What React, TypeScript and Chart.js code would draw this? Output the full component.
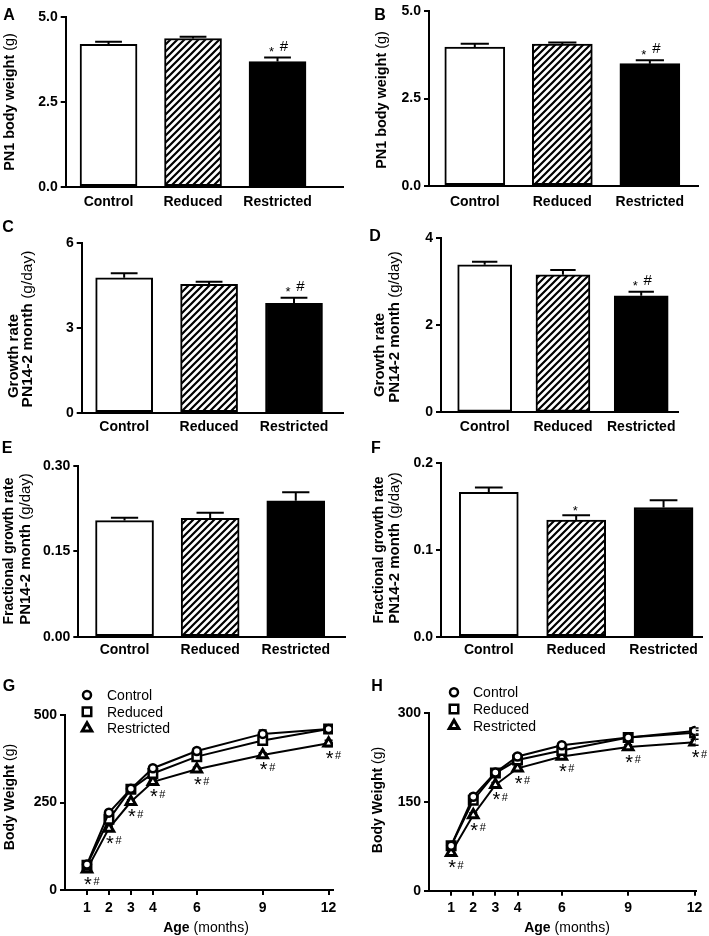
import React, { useEffect, useRef } from 'react';
import { Chart, registerables } from 'chart.js';

Chart.register(...registerables);

const FONT = "'Liberation Sans', Arial, Helvetica, sans-serif";

// ---------- data ----------
const groups = ['Control', 'Reduced', 'Restricted'];

// A: PN1 body weight (g)
const aValues = [4.19, 4.36, 3.68];
const aErrors = [0.07, 0.05, 0.12];
const aTicks = [0, 2.5, 5.0];
const aSig = ['', '', '*#'];

// B: PN1 body weight (g)
const bValues = [3.98, 4.06, 3.5];
const bErrors = [0.09, 0.05, 0.1];
const bTicks = [0, 2.5, 5.0];
const bSig = ['', '', '*#'];

// C: growth rate PN14-2 month (g/day)
const cValues = [4.76, 4.53, 3.86];
const cErrors = [0.16, 0.09, 0.2];
const cTicks = [0, 3, 6];
const cSig = ['', '', '*#'];

// D
const dValues = [3.39, 3.16, 2.68];
const dErrors = [0.07, 0.11, 0.09];
const dTicks = [0, 2, 4];
const dSig = ['', '', '*#'];

// E: fractional growth rate
const eValues = [0.204, 0.208, 0.239];
const eErrors = [0.005, 0.01, 0.015];
const eTicks = [0, 0.15, 0.3];
const eSig = ['', '', ''];

// F
const fValues = [0.1666, 0.1346, 0.149];
const fErrors = [0.0055, 0.0055, 0.0085];
const fTicks = [0, 0.1, 0.2];
const fSig = ['', '*', ''];

// G / H: body weight over age
const months = [1, 2, 3, 4, 6, 9, 12];
const gControl = [73, 221, 289, 348, 397, 446, 460];
const gReduced = [71, 202, 288, 333, 381, 427, 460];
const gRestricted = [59, 176, 252, 309, 345, 386, 419];
const gControlErr = [6, 7, 6, 7, 7, 11, 7];
const gReducedErr = [6, 8, 6, 7, 8, 11, 7];
const gRestrictedErr = [4, 6, 6, 6, 6, 6, 9];
const gTicks = [0, 250, 500];
const gSig = ['*#', '*#', '*#', '*#', '*#', '*#', '*#'];

const hControl = [76, 159, 200, 227, 246, 259, 270];
const hReduced = [76, 153, 199, 221, 237, 259, 267];
const hRestricted = [64, 128, 179, 207, 227, 243, 251];
const hControlErr = [3, 4, 4, 4, 4, 4, 5];
const hReducedErr = [3, 4, 4, 4, 4, 4, 4];
const hRestrictedErr = [3, 4, 4, 4, 4, 4, 5];
const hTicks = [0, 150, 300];
const hSig = ['*#', '*#', '*#', '*#', '*#', '*#', '*#'];

// ---------- helpers ----------
type Box = { l: number; t: number; w: number; h: number };
type Area = { l: number; t: number; r: number; b: number };

function frame(box: Box, area: Area) {
  return {
    yWidth: area.l - box.l,
    xHeight: box.t + box.h - area.b,
    padTop: area.t - box.t,
    padRight: box.l + box.w - area.r,
  };
}

function makeHatch(): any {
  const s = 7;
  const c = document.createElement('canvas');
  c.width = s;
  c.height = s;
  const x = c.getContext('2d')!;
  x.fillStyle = '#fff';
  x.fillRect(0, 0, s, s);
  x.strokeStyle = '#000';
  x.lineWidth = 2.2;
  x.beginPath();
  x.moveTo(-1, s + 1);
  x.lineTo(s + 1, -1);
  x.moveTo(-2, 2);
  x.lineTo(2, -2);
  x.moveTo(s - 2, s + 2);
  x.lineTo(s + 2, s - 2);
  x.stroke();
  return x.createPattern(c, 'repeat');
}

function drawMarker(ctx: CanvasRenderingContext2D, style: string, x: number, y: number, r: number) {
  ctx.beginPath();
  if (style === 'circle') {
    ctx.arc(x, y, r, 0, Math.PI * 2);
  } else if (style === 'rect') {
    const s = r * Math.SQRT1_2;
    ctx.rect(x - s, y - s, 2 * s, 2 * s);
  } else {
    const c = Math.cos(Math.PI / 6) * r;
    ctx.moveTo(x, y - r);
    ctx.lineTo(x + c, y + r / 2);
    ctx.lineTo(x - c, y + r / 2);
    ctx.closePath();
  }
  ctx.fill();
  ctx.stroke();
}

function barExtras(errors: number[], sig: string[], barW: number) {
  return {
    id: 'barExtras',
    afterDatasetsDraw(chart: any) {
      const { ctx } = chart;
      const x = chart.scales.x;
      const y = chart.scales.y;
      const pts = chart.data.datasets[0].data;
      ctx.save();
      ctx.strokeStyle = '#000';
      ctx.lineWidth = 2;
      ctx.fillStyle = '#000';
      pts.forEach((pt: any, i: number) => {
        const cx = x.getPixelForValue(pt.x);
        const yv = y.getPixelForValue(pt.y);
        const ye = y.getPixelForValue(pt.y + errors[i]);
        const half = barW * 0.235;
        ctx.beginPath();
        ctx.moveTo(cx, yv);
        ctx.lineTo(cx, ye);
        ctx.moveTo(cx - half, ye);
        ctx.lineTo(cx + half, ye);
        ctx.stroke();
        const s = sig[i];
        if (s) {
          ctx.textAlign = 'center';
          ctx.textBaseline = 'middle';
          if (s.includes('#')) {
            ctx.font = `13px ${FONT}`;
            ctx.fillText('*', cx - 6, ye - 5);
            ctx.font = `15px ${FONT}`;
            ctx.fillText('#', cx + 6.5, ye - 11);
          } else {
            ctx.font = `13px ${FONT}`;
            ctx.fillText('*', cx - 1, ye - 4);
          }
        }
      });
      ctx.restore();
    },
  };
}

type LegendPos = { mx: number; my: number[]; tx: number };

function lineExtras(errors: number[][], sig: string[], legend: LegendPos) {
  return {
    id: 'lineExtras',
    beforeDatasetsDraw(chart: any) {
      const { ctx } = chart;
      const x = chart.scales.x;
      const y = chart.scales.y;
      ctx.save();
      ctx.strokeStyle = '#000';
      ctx.lineWidth = 1.5;
      chart.data.datasets.forEach((ds: any, d: number) => {
        ds.data.forEach((pt: any, i: number) => {
          const e = errors[d][i];
          const cx = x.getPixelForValue(pt.x);
          const y1 = y.getPixelForValue(pt.y - e);
          const y2 = y.getPixelForValue(pt.y + e);
          ctx.beginPath();
          ctx.moveTo(cx, y1);
          ctx.lineTo(cx, y2);
          ctx.moveTo(cx - 4, y1);
          ctx.lineTo(cx + 4, y1);
          ctx.moveTo(cx - 4, y2);
          ctx.lineTo(cx + 4, y2);
          ctx.stroke();
        });
      });
      ctx.restore();
    },
    afterDatasetsDraw(chart: any) {
      const { ctx } = chart;
      const x = chart.scales.x;
      const y = chart.scales.y;
      const restricted = chart.data.datasets[2].data;
      ctx.save();
      ctx.fillStyle = '#000';
      ctx.textAlign = 'center';
      ctx.textBaseline = 'middle';
      restricted.forEach((pt: any, i: number) => {
        if (!sig[i]) return;
        const cx = x.getPixelForValue(pt.x);
        const cy = y.getPixelForValue(pt.y) + 12;
        ctx.font = `20px ${FONT}`;
        ctx.fillText('*', cx + 1, cy + 4);
        ctx.font = `11px ${FONT}`;
        ctx.fillText('#', cx + 9.5, cy + 1);
      });
      // legend
      chart.data.datasets.forEach((ds: any, d: number) => {
        ctx.fillStyle = '#fff';
        ctx.strokeStyle = '#000';
        ctx.lineWidth = ds.pointBorderWidth;
        drawMarker(ctx, ds.pointStyle, legend.mx, legend.my[d], ds.pointRadius);
        ctx.fillStyle = '#000';
        ctx.textAlign = 'left';
        ctx.textBaseline = 'middle';
        ctx.font = `14px ${FONT}`;
        ctx.fillText(ds.label, legend.tx, legend.my[d] + 1);
      });
      ctx.restore();
    },
  };
}

type BarSpec = {
  box: Box;
  area: Area;
  xMin: number;
  xMax: number;
  barW: number;
  values: number[];
  errors: number[];
  yTicks: number[];
  dec: number;
  sig: string[];
  xPad: number;
};

function barConfig(p: BarSpec): any {
  const f = frame(p.box, p.area);
  const fills = ['#ffffff', makeHatch(), '#000000'];
  return {
    type: 'bar',
    data: {
      datasets: [
        {
          data: p.values.map((v, i) => ({ x: i, y: v })),
          backgroundColor: fills,
          borderColor: '#000',
          borderWidth: 2,
          borderSkipped: false,
          barThickness: p.barW,
        },
      ],
    },
    options: {
      animation: false,
      responsive: false,
      maintainAspectRatio: false,
      layout: { padding: { top: f.padTop, right: f.padRight, left: 0, bottom: 0 } },
      plugins: { legend: { display: false }, tooltip: { enabled: false } },
      scales: {
        x: {
          type: 'linear',
          min: p.xMin,
          max: p.xMax,
          offset: false,
          afterBuildTicks: (s: any) => {
            s.ticks = groups.map((_, i) => ({ value: i }));
          },
          afterFit: (s: any) => {
            s.height = f.xHeight;
          },
          ticks: {
            callback: (v: any) => groups[v] ?? '',
            font: { size: 14, weight: 'bold', family: FONT },
            color: '#000',
            padding: p.xPad,
            maxRotation: 0,
            autoSkip: false,
          },
          grid: { display: false, drawTicks: false, offset: false },
          border: { display: true, color: '#000', width: 2 },
        },
        y: {
          type: 'linear',
          min: p.yTicks[0],
          max: p.yTicks[p.yTicks.length - 1],
          afterBuildTicks: (s: any) => {
            s.ticks = p.yTicks.map((v) => ({ value: v }));
          },
          afterFit: (s: any) => {
            s.width = f.yWidth;
          },
          ticks: {
            callback: (v: any) => Number(v).toFixed(p.dec),
            font: { size: 14, weight: 'bold', family: FONT },
            color: '#000',
            padding: 3,
          },
          grid: { drawOnChartArea: false, drawTicks: true, tickLength: 5, color: '#000', lineWidth: 2 },
          border: { display: true, color: '#000', width: 2 },
        },
      },
    },
    plugins: [barExtras(p.errors, p.sig, p.barW)],
  };
}

type LineSpec = {
  box: Box;
  area: Area;
  xMax: number;
  series: number[][];
  errors: number[][];
  yTicks: number[];
  sig: string[];
  xPad: number;
  legend: LegendPos;
};

function lineConfig(p: LineSpec): any {
  const f = frame(p.box, p.area);
  const styles = [
    { pointStyle: 'circle', pointRadius: 4, pointBorderWidth: 2.5 },
    { pointStyle: 'rect', pointRadius: 6, pointBorderWidth: 2.5 },
    { pointStyle: 'triangle', pointRadius: 5.5, pointBorderWidth: 3 },
  ];
  return {
    type: 'line',
    data: {
      datasets: p.series.map((vals, d) => ({
        label: groups[d],
        data: months.map((m, i) => ({ x: m, y: vals[i] })),
        borderColor: '#000',
        borderWidth: 2,
        backgroundColor: '#fff',
        pointBackgroundColor: '#fff',
        pointBorderColor: '#000',
        tension: 0,
        fill: false,
        ...styles[d],
      })),
    },
    options: {
      animation: false,
      responsive: false,
      maintainAspectRatio: false,
      layout: { padding: { top: f.padTop, right: f.padRight, left: 0, bottom: 0 } },
      plugins: { legend: { display: false }, tooltip: { enabled: false } },
      scales: {
        x: {
          type: 'linear',
          min: 0,
          max: p.xMax,
          afterBuildTicks: (s: any) => {
            s.ticks = months.map((v) => ({ value: v }));
          },
          afterFit: (s: any) => {
            s.height = f.xHeight;
          },
          ticks: {
            callback: (v: any) => String(v),
            font: { size: 14, weight: 'bold', family: FONT },
            color: '#000',
            padding: p.xPad,
            maxRotation: 0,
            autoSkip: false,
          },
          grid: { drawOnChartArea: false, drawTicks: true, tickLength: 5, color: '#000', lineWidth: 2 },
          border: { display: true, color: '#000', width: 2 },
        },
        y: {
          type: 'linear',
          min: p.yTicks[0],
          max: p.yTicks[p.yTicks.length - 1],
          afterBuildTicks: (s: any) => {
            s.ticks = p.yTicks.map((v) => ({ value: v }));
          },
          afterFit: (s: any) => {
            s.width = f.yWidth;
          },
          ticks: {
            callback: (v: any) => String(v),
            font: { size: 14, weight: 'bold', family: FONT },
            color: '#000',
            padding: 3,
          },
          grid: { drawOnChartArea: false, drawTicks: true, tickLength: 5, color: '#000', lineWidth: 2 },
          border: { display: true, color: '#000', width: 2 },
        },
      },
    },
    plugins: [lineExtras(p.errors, p.sig, p.legend)],
  };
}

// ---------- panel specs ----------
const barPanels: BarSpec[] = [
  { box: { l: 0, t: 0, w: 355, h: 222 }, area: { l: 65.7, t: 16.7, r: 343, b: 186.7 }, xMin: -0.507, xMax: 2.775, barW: 57, values: aValues, errors: aErrors, yTicks: aTicks, dec: 1, sig: aSig, xPad: 6.6 },
  { box: { l: 355, t: 0, w: 354, h: 222 }, area: { l: 429, t: 10, r: 698, b: 185.7 }, xMin: -0.523, xMax: 2.55, barW: 60, values: bValues, errors: bErrors, yTicks: bTicks, dec: 1, sig: bSig, xPad: 7.6 },
  { box: { l: 0, t: 222, w: 355, h: 218 }, area: { l: 81.7, t: 242.7, r: 343, b: 412.7 }, xMin: -0.5, xMax: 2.577, barW: 57, values: cValues, errors: cErrors, yTicks: cTicks, dec: 0, sig: cSig, xPad: 5.6 },
  { box: { l: 355, t: 222, w: 354, h: 218 }, area: { l: 441, t: 238.3, r: 678, b: 412.3 }, xMin: -0.558, xMax: 2.47, barW: 54, values: dValues, errors: dErrors, yTicks: dTicks, dec: 0, sig: dSig, xPad: 6 },
  { box: { l: 0, t: 440, w: 355, h: 220 }, area: { l: 78.3, t: 466, r: 345, b: 636.7 }, xMin: -0.54, xMax: 2.575, barW: 58, values: eValues, errors: eErrors, yTicks: eTicks, dec: 2, sig: eSig, xPad: 5 },
  { box: { l: 355, t: 440, w: 354, h: 220 }, area: { l: 441, t: 463.3, r: 702, b: 636.7 }, xMin: -0.547, xMax: 2.44, barW: 59, values: fValues, errors: fErrors, yTicks: fTicks, dec: 1, sig: fSig, xPad: 5 },
];

const linePanels: LineSpec[] = [
  {
    box: { l: 0, t: 660, w: 355, h: 276 },
    area: { l: 65, t: 715, r: 333, b: 890 },
    xMax: 12.2,
    series: [gControl, gReduced, gRestricted],
    errors: [gControlErr, gReducedErr, gRestrictedErr],
    yTicks: gTicks,
    sig: gSig,
    xPad: 4.9,
    legend: { mx: 87, my: [35, 51.7, 68.3], tx: 107 },
  },
  {
    box: { l: 355, t: 660, w: 354, h: 276 },
    area: { l: 429, t: 713.3, r: 695.7, b: 890.7 },
    xMax: 12.05,
    series: [hControl, hReduced, hRestricted],
    errors: [hControlErr, hReducedErr, hRestrictedErr],
    yTicks: hTicks,
    sig: hSig,
    xPad: 4.2,
    legend: { mx: 99, my: [32.3, 49, 65.7], tx: 118 },
  },
];

type Title = { x: number; y: number; bold: string; normal: string; size?: number };

const yTitles: Title[] = [
  { x: 9, y: 102, bold: 'PN1 body weight', normal: '(g)', size: 14.4 },
  { x: 381, y: 100, bold: 'PN1 body weight', normal: '(g)', size: 14.4 },
  { x: 12.5, y: 356, bold: 'Growth rate', normal: '', size: 15 },
  { x: 27, y: 329, bold: 'PN14-2 month', normal: '(g/day)', size: 15.5 },
  { x: 379, y: 355, bold: 'Growth rate', normal: '', size: 15 },
  { x: 394, y: 327, bold: 'PN14-2 month', normal: '(g/day)', size: 15 },
  { x: 8, y: 551, bold: 'Fractional growth rate', normal: '', size: 14 },
  { x: 25, y: 549, bold: 'PN14-2 month', normal: '(g/day)', size: 15 },
  { x: 377.5, y: 550, bold: 'Fractional growth rate', normal: '', size: 14 },
  { x: 393.5, y: 548, bold: 'PN14-2 month', normal: '(g/day)', size: 15 },
  { x: 9, y: 797, bold: 'Body Weight', normal: '(g)' },
  { x: 377, y: 800, bold: 'Body Weight', normal: '(g)' },
];

const xTitles: Title[] = [
  { x: 206, y: 927, bold: 'Age', normal: '(months)' },
  { x: 567, y: 927, bold: 'Age', normal: '(months)' },
];

const panelLetters = [
  { t: 'A', x: 9, y: 15 },
  { t: 'B', x: 380, y: 15 },
  { t: 'C', x: 8, y: 227 },
  { t: 'D', x: 375, y: 236 },
  { t: 'E', x: 7, y: 448 },
  { t: 'F', x: 376, y: 448 },
  { t: 'G', x: 9, y: 686 },
  { t: 'H', x: 377, y: 686 },
];

function ChartPanel({ box, make }: { box: Box; make: () => any }) {
  const ref = useRef<HTMLCanvasElement>(null);
  useEffect(() => {
    const chart = new Chart(ref.current as HTMLCanvasElement, make());
    return () => chart.destroy();
  }, []);
  return (
    <canvas
      ref={ref}
      width={box.w}
      height={box.h}
      style={{ position: 'absolute', left: box.l, top: box.t, width: box.w, height: box.h }}
    />
  );
}

function TitleText({ t, rotate }: { t: Title; rotate: boolean }) {
  return (
    <div
      style={{
        position: 'absolute',
        left: t.x,
        top: t.y,
        transform: `translate(-50%, -50%)${rotate ? ' rotate(-90deg)' : ''}`,
        whiteSpace: 'nowrap',
        fontFamily: FONT,
        fontSize: t.size ?? 14,
        lineHeight: '16px',
        color: '#000',
      }}
    >
      <span style={{ fontWeight: 'bold' }}>{t.bold}</span>
      {t.normal ? <span style={{ fontWeight: 'normal' }}>{' ' + t.normal}</span> : null}
    </div>
  );
}

export default function App() {
  return (
    <div style={{ position: 'absolute', left: 0, top: 0, width: 709, height: 936, background: '#fff', overflow: 'hidden' }}>
      {barPanels.map((p, i) => (
        <ChartPanel key={'b' + i} box={p.box} make={() => barConfig(p)} />
      ))}
      {linePanels.map((p, i) => (
        <ChartPanel key={'l' + i} box={p.box} make={() => lineConfig(p)} />
      ))}
      {yTitles.map((t, i) => (
        <TitleText key={'y' + i} t={t} rotate={true} />
      ))}
      {xTitles.map((t, i) => (
        <TitleText key={'x' + i} t={t} rotate={false} />
      ))}
      {panelLetters.map((p) => (
        <div
          key={p.t}
          style={{
            position: 'absolute',
            left: p.x,
            top: p.y,
            transform: 'translate(-50%, -50%)',
            fontFamily: FONT,
            fontWeight: 'bold',
            fontSize: 16,
            lineHeight: '18px',
            color: '#000',
          }}
        >
          {p.t}
        </div>
      ))}
    </div>
  );
}
